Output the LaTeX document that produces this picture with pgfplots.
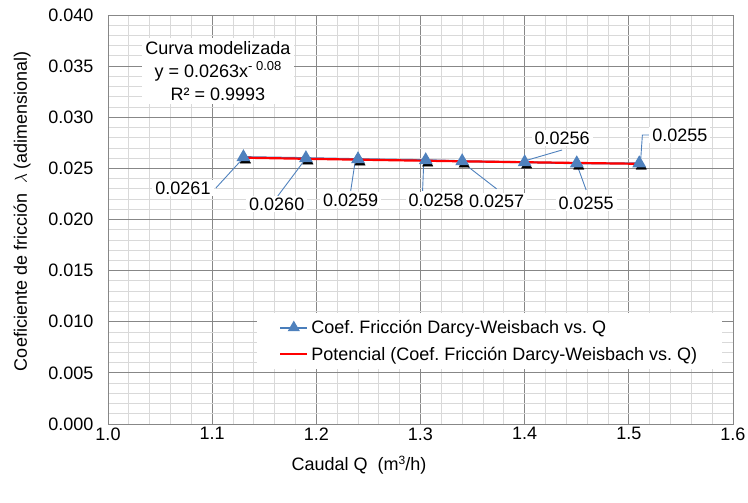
\documentclass[border=0pt]{standalone}
\usepackage{fontspec}
\setmainfont{Liberation Sans}
\usepackage{pgfplots}
\pgfplotsset{compat=1.18}

\definecolor{xlblue}{HTML}{4F81BD}
\definecolor{xlline}{HTML}{4A7EBB}
\definecolor{majgrid}{HTML}{878787}
\definecolor{mingrid}{HTML}{D9D9D9}

\pgfplotsset{
  mylegimg/.style={legend image code/.code={%
    \draw[##1,mark repeat=2,mark phase=2,mark size=5pt] plot coordinates {(0pt,0pt) (13.5pt,0pt) (27pt,0pt)};}},
}

\begin{document}
\begin{tikzpicture}[x=1pt,y=1pt,font=\fontsize{18}{21}\selectfont]
\useasboundingbox (0,0) rectangle (748,503);
\begin{axis}[
    at={(108pt,79pt)}, anchor=south west,
    scale only axis, width=625pt, height=409pt,
    xmin=1, xmax=1.6, ymin=0, ymax=0.04,
    xtick={1,1.1,...,1.6}, ytick={0,0.005,...,0.04},
    minor x tick num=4, minor y tick num=4,
    grid=both,
    major grid style={majgrid, line width=0.8pt},
    minor grid style={mingrid, line width=0.8pt},
    axis line style={majgrid, line width=0.8pt},
    major tick length=0pt, minor tick length=0pt,
    scaled y ticks=false,
    /pgf/number format/assume math mode=true,
    xticklabel style={/pgf/number format/fixed, /pgf/number format/fixed zerofill, /pgf/number format/precision=1},
    yticklabel style={/pgf/number format/fixed, /pgf/number format/fixed zerofill, /pgf/number format/precision=3, xshift=-11pt},
    legend style={at={(0.2384,0.2714)}, anchor=north west, draw=none, fill=white,
      inner xsep=22pt, inner ysep=5pt, row sep=8pt,
      nodes={inner xsep=3pt, inner ysep=2pt}},
    legend cell align=left,
]
% shadow under the markers
\addplot[draw=none, mark=triangle*, mark size=6pt, mark options={black, xshift=2pt, yshift=-3pt}, forget plot]
  coordinates {(1.13,0.0261) (1.19,0.0260) (1.24,0.0259) (1.305,0.0258)
               (1.34,0.0257) (1.40,0.0256) (1.45,0.0255) (1.51,0.0255)};
\addplot[xlline, line width=2pt, mark=triangle*, mark size=6pt, mark options={xlblue, fill=xlblue}, mylegimg]
  coordinates {(1.13,0.0261) (1.19,0.0260) (1.24,0.0259) (1.305,0.0258)
               (1.34,0.0257) (1.40,0.0256) (1.45,0.0255) (1.51,0.0255)};
\addlegendentry{Coef.\ Fricción Darcy-Weisbach vs.\ Q}
\addplot[red, line width=2.2pt, mylegimg]
  coordinates {(1.13,0.026044) (1.19,0.025937) (1.24,0.025851) (1.305,0.025746)
               (1.34,0.025691) (1.40,0.025601) (1.45,0.025530) (1.51,0.025447)};
\addlegendentry{Potencial (Coef.\ Fricción Darcy-Weisbach vs.\ Q)}

% leader lines
\draw[xlblue, line width=0.9pt] (axis cs:1.1036,0.02308) -- (axis cs:1.128,0.0258);
\draw[xlblue, line width=0.9pt] (axis cs:1.163,0.0223) -- (axis cs:1.188,0.0257);
\draw[xlblue, line width=0.9pt] (axis cs:1.233,0.0228) -- (axis cs:1.237,0.0255);
\draw[xlblue, line width=0.9pt] (axis cs:1.302,0.0228) -- (axis cs:1.303,0.0253);
\draw[xlblue, line width=0.9pt] (axis cs:1.373,0.0230) -- (axis cs:1.341,0.02553);
\draw[xlblue, line width=0.9pt] (axis cs:1.436,0.0268) -- (axis cs:1.403,0.02582);
\draw[xlblue, line width=0.9pt] (axis cs:1.459,0.02289) -- (axis cs:1.451,0.02513);
\draw[xlblue, line width=0.9pt] (axis cs:1.521,0.02826) -- (axis cs:1.513,0.02826) -- (axis cs:1.5115,0.0260);

% data labels
\tikzset{dlab/.style={fill=white, inner xsep=3pt, inner ysep=2pt}}
\node[dlab] at (axis cs:1.072,0.02308) {0.0261};
\node[dlab] at (axis cs:1.162,0.02152) {0.0260};
\node[dlab] at (axis cs:1.233,0.0219) {0.0259};
\node[dlab] at (axis cs:1.315,0.0219) {0.0258};
\node[dlab] at (axis cs:1.373,0.0218) {0.0257};
\node[dlab] at (axis cs:1.436,0.02797) {0.0256};
\node[dlab] at (axis cs:1.459,0.02161) {0.0255};
\node[dlab] at (axis cs:1.549,0.02826) {0.0255};

% trendline equation
\node[fill=white, align=center, font=\fontsize{18}{23}\selectfont, inner sep=3pt]
  at (axis cs:1.1056,0.03452)
  {Curva modelizada\\ y = 0.0263x\raisebox{7pt}{\fontsize{13}{13}\selectfont - 0.08}\\ R² = 0.9993};
\end{axis}

\node at (359,38) {Caudal Q\ \ (m\raisebox{6pt}{\fontsize{12}{12}\selectfont 3}/h)};
\node[rotate=90] at (22,292) {Coeficiente de fricción\ \ $\lambda$ (adimensional)};
\end{tikzpicture}
\end{document}
